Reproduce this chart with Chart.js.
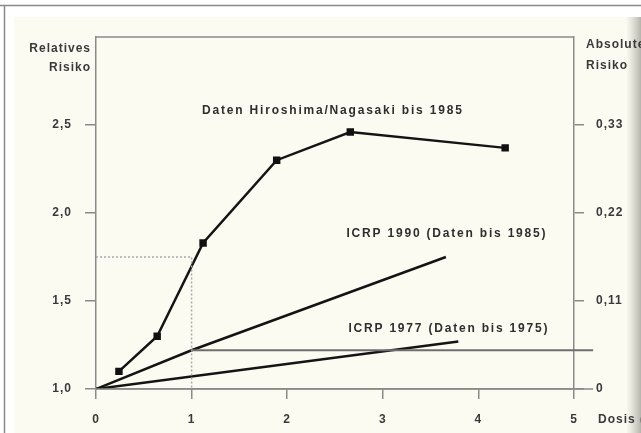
<!DOCTYPE html>
<html>
<head>
<meta charset="utf-8">
<script src="https://cdn.jsdelivr.net/npm/chart.js@4"></script>
<style>
  html, body { margin: 0; padding: 0; background: #fff; }
  canvas { display: block; }
</style>
</head>
<body>
<canvas id="myChart" width="641" height="433"></canvas>
<script>
// Daten Hiroshima/Nagasaki
const hiroDose = [0.24, 0.64, 1.12, 1.89, 2.66, 4.28];
const hiroRisk = [1.10, 1.30, 1.83, 2.30, 2.46, 2.37];
// ICRP 1990
const icrp90Dose = [0, 1, 3.66];
const icrp90Risk = [1.0, 1.22, 1.75];
// ICRP 1977
const icrp77Dose = [0, 3.79];
const icrp77Risk = [1.0, 1.27];
// horizontal line at 1,22 and the base line
const plateauDose = [1, 5.2];
const plateauRisk = [1.22, 1.22];
const baseDose = [0, 5.2];
const baseRisk = [1.0, 1.0];
// dotted guide at dose 1
const guideDose = [0, 1, 1];
const guideRisk = [1.75, 1.75, 1.0];

const xTicks = [0, 1, 2, 3, 4, 5];
const yLeftTicks = [1.0, 1.5, 2.0, 2.5];
const yRightTicks = [0, 0.11, 0.22, 0.33];

const labelTexts = [
  "Daten Hiroshima/Nagasaki bis 1985",
  "ICRP 1990 (Daten bis 1985)",
  "ICRP 1977 (Daten bis 1975)"
];
const labelDose = [1.11, 2.62, 2.64];
const labelRisk = [2.58, 1.88, 1.34];

function pts(xs, ys) {
  return xs.map((x, i) => ({ x: x, y: ys[i] }));
}
function comma(v, digits) {
  return v.toFixed(digits).replace(".", ",");
}

const ink = "#3a3a3a";
const font = "Liberation Sans, Arial, sans-serif";

// background, frame and texts
const paperPlugin = {
  id: "paper",
  beforeDraw(chart) {
    const c = chart.ctx;
    const w = chart.width, h = chart.height;
    c.save();
    c.fillStyle = "#ffffff";
    c.fillRect(0, 0, w, h);
    c.fillStyle = "#fcfbf1";
    c.fillRect(14, 17, w - 14, h - 17);
    let g = c.createLinearGradient(626, 0, w, 0);
    g.addColorStop(0, "rgba(200,200,190,0)");
    g.addColorStop(1, "rgba(180,180,172,1)");
    c.fillStyle = g;
    c.fillRect(626, 17, w - 626, h - 17);
    c.strokeStyle = "#8a8a8a";
    c.lineWidth = 1.5;
    c.beginPath();
    c.moveTo(0, 5.5); c.lineTo(w, 5.5);
    c.moveTo(4.5, 5); c.lineTo(4.5, h);
    c.stroke();
    c.restore();
    c.letterSpacing = "1px";
  },
  afterDraw(chart) {
    const c = chart.ctx;
    const a = chart.chartArea;
    c.save();
    c.strokeStyle = "#8a8a8a";
    c.lineWidth = 1.5;
    c.beginPath();
    c.moveTo(a.left, a.top); c.lineTo(a.right, a.top);
    c.stroke();

    c.fillStyle = ink;
    c.font = "bold 12px " + font;
    c.letterSpacing = "1px";
    c.textBaseline = "middle";
    c.textAlign = "right";
    c.fillText("Relatives", a.left - 5, 49);
    c.fillText("Risiko", a.left - 5, 68);
    c.textAlign = "left";
    c.fillText("Absolutes", a.right + 12, 45);
    c.fillText("Risiko", a.right + 12, 66);
    c.fillText("Dosis (Sv)", a.right + 24, 420);

    const xs = chart.scales.x, ys = chart.scales.y;
    c.font = "bold 12px " + font;
    c.letterSpacing = "1.8px";
    c.fillStyle = "#2e2e2e";
    labelTexts.forEach((t, i) => {
      c.fillText(t, xs.getPixelForValue(labelDose[i]), ys.getPixelForValue(labelRisk[i]));
    });
    c.restore();
  }
};

const ctx = document.getElementById("myChart").getContext("2d");
ctx.letterSpacing = "1px";

const tickFont = { family: font, size: 12, weight: "bold" };

const myChart = new Chart(ctx, {
  type: "scatter",
  data: {
    datasets: [
      {
        label: "Grundlinie",
        data: pts(baseDose, baseRisk),
        showLine: true,
        borderColor: "#8a8a8a",
        borderWidth: 1.5,
        pointRadius: 0,
        clip: false
      },
      {
        label: "Hilfslinie",
        data: pts(guideDose, guideRisk),
        showLine: true,
        borderColor: "#a8a8a8",
        borderWidth: 1.5,
        borderDash: [2, 2],
        pointRadius: 0
      },
      {
        label: "1,22",
        data: pts(plateauDose, plateauRisk),
        showLine: true,
        borderColor: "#6e6e6e",
        borderWidth: 2,
        pointRadius: 0,
        clip: false
      },
      {
        label: "ICRP 1977",
        data: pts(icrp77Dose, icrp77Risk),
        showLine: true,
        borderColor: "#141414",
        borderWidth: 2.5,
        pointRadius: 0
      },
      {
        label: "ICRP 1990",
        data: pts(icrp90Dose, icrp90Risk),
        showLine: true,
        borderColor: "#141414",
        borderWidth: 2.5,
        pointRadius: 0
      },
      {
        label: "Hiroshima/Nagasaki",
        data: pts(hiroDose, hiroRisk),
        showLine: true,
        borderColor: "#141414",
        borderWidth: 2.5,
        pointStyle: "rect",
        pointRadius: 3.5,
        pointBackgroundColor: "#111",
        pointBorderColor: "#111"
      }
    ]
  },
  options: {
    responsive: false,
    devicePixelRatio: 1,
    animation: false,
    layout: { padding: { top: 37, left: 0, right: 0, bottom: 0 } },
    plugins: {
      legend: { display: false },
      tooltip: { enabled: false }
    },
    scales: {
      x: {
        type: "linear",
        min: 0,
        max: 5,
        afterBuildTicks: (scale) => { scale.ticks = xTicks.map(v => ({ value: v })); },
        afterFit: (scale) => { scale.height = 44; },
        ticks: {
          color: ink,
          font: tickFont,
          padding: 13,
          callback: (v) => String(v)
        },
        grid: { drawOnChartArea: false, drawTicks: true, tickLength: 10, color: "#8a8a8a", lineWidth: 1.5 },
        border: { display: true, color: "#8a8a8a", width: 1.5 }
      },
      y: {
        position: "left",
        min: 1,
        max: 3,
        afterBuildTicks: (scale) => { scale.ticks = yLeftTicks.map(v => ({ value: v })); },
        afterFit: (scale) => { scale.width = 96; },
        ticks: {
          color: ink,
          font: tickFont,
          padding: 13,
          callback: (v) => comma(v, 1)
        },
        grid: { drawOnChartArea: false, drawTicks: true, tickLength: 11, color: "#8a8a8a", lineWidth: 1.5 },
        border: { display: true, color: "#8a8a8a", width: 1.5 }
      },
      y2: {
        position: "right",
        min: 0,
        max: 0.44,
        afterBuildTicks: (scale) => { scale.ticks = yRightTicks.map(v => ({ value: v })); },
        afterFit: (scale) => { scale.width = 67; },
        ticks: {
          color: ink,
          font: tickFont,
          padding: 12,
          callback: (v) => v === 0 ? "0" : comma(v, 2)
        },
        grid: { drawOnChartArea: false, drawTicks: true, tickLength: 10, color: "#8a8a8a", lineWidth: 1.5 },
        border: { display: true, color: "#8a8a8a", width: 1.5 }
      }
    }
  },
  plugins: [paperPlugin]
});
</script>
</body>
</html>
